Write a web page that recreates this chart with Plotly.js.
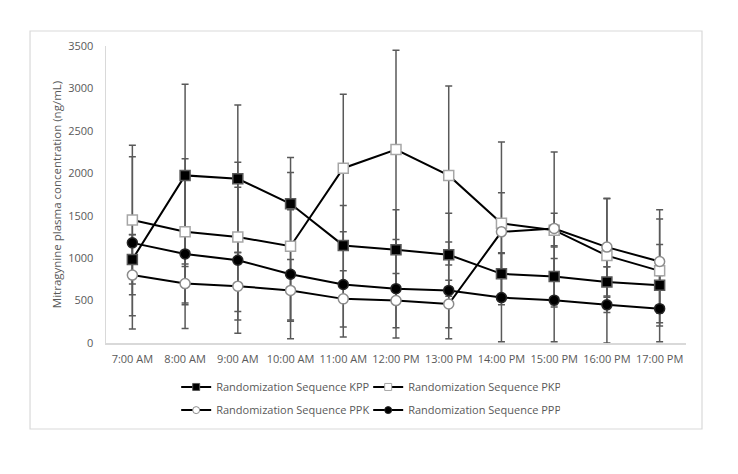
<!DOCTYPE html>
<html>
<head>
<meta charset="utf-8">
<script src="https://cdn.plot.ly/plotly-3.0.1.min.js"></script>
<style>html,body{margin:0;padding:0;background:#fff;}#chart{width:738px;height:474px;}</style>
</head>
<body>
<div id="chart"></div>
<script>
var categories = ["7:00 AM","8:00 AM","9:00 AM","10:00 AM","11:00 AM","12:00 PM","13:00 PM","14:00 PM","15:00 PM","16:00 PM","17:00 PM"];
var kppMean = [985, 1975, 1935, 1640, 1150, 1100, 1040, 815, 785, 720, 680];
var kppSD   = [290, 1073, 870, 545, 470, 470, 490, 250, 360, 180, 480];
var pkpMean = [1450, 1310, 1250, 1140, 2060, 2280, 1975, 1410, 1330, 1030, 850];
var pkpSD   = [880, 860, 880, 870, 870, 1170, 1055, 960, 200, 670, 610];
var ppkMean = [800, 700, 670, 620, 520, 500, 460, 1310, 1350, 1130, 960];
var ppkSD   = [480, 230, 400, 365, 330, 320, 280, 460, 900, 575, 610];
var pppMean = [1180, 1050, 975, 810, 690, 640, 620, 535, 505, 450, 405];
var pppSD   = [1015, 880, 860, 760, 620, 580, 570, 520, 490, 450, 390];
var seriesNames = ["Randomization Sequence KPP","Randomization Sequence PKP","Randomization Sequence PPK","Randomization Sequence PPP"];

var errColor = '#595959';
var series = [
  {name: seriesNames[0], y: kppMean, sd: kppSD, symbol: 'square', fill: '#000000', edge: '#595959', legend: 'legend'},
  {name: seriesNames[1], y: pkpMean, sd: pkpSD, symbol: 'square', fill: '#ffffff', edge: '#a6a6a6', legend: 'legend'},
  {name: seriesNames[2], y: ppkMean, sd: ppkSD, symbol: 'circle', fill: '#ffffff', edge: '#8c8c8c', legend: 'legend2'},
  {name: seriesNames[3], y: pppMean, sd: pppSD, symbol: 'circle', fill: '#000000', edge: '#262626', legend: 'legend2'}
];
var traces = [];
// error bars first (drawn beneath all markers)
series.forEach(function (s) {
  traces.push({type: 'scatter', mode: 'markers', x: categories, y: s.y, showlegend: false, hoverinfo: 'skip',
    marker: {size: 1, color: 'rgba(0,0,0,0)'},
    error_y: {type: 'data', array: s.sd, visible: true, color: errColor, thickness: 1.5, width: 3.5}});
});
// lines and markers
series.forEach(function (s) {
  traces.push({type: 'scatter', mode: 'lines+markers', name: s.name, x: categories, y: s.y, showlegend: false,
    line: {color: '#000000', width: 2},
    marker: {symbol: s.symbol, size: 10, color: s.fill, line: {color: s.edge, width: 1.5}}});
});
// legend entries with small symbols
series.forEach(function (s) {
  traces.push({type: 'scatter', mode: 'lines+markers', name: s.name, x: [categories[0]], y: [null], legend: s.legend,
    line: {color: '#000000', width: 2},
    marker: {symbol: s.symbol, size: 7, color: s.fill, line: {color: s.edge, width: 1}}});
});

var fam = '"Open Sans", "Noto Sans", sans-serif';
var legendCommon = {orientation: 'h', xanchor: 'left', yanchor: 'middle', entrywidth: 147, entrywidthmode: 'pixels',
  font: {family: fam, size: 11, color: '#595959'}, bgcolor: 'rgba(0,0,0,0)', itemwidth: 30};
var layout = {
  width: 738, height: 474,
  margin: {l: 106, r: 52, t: 46, b: 131},
  paper_bgcolor: '#ffffff', plot_bgcolor: '#ffffff',
  font: {family: fam, size: 11, color: '#595959'},
  showlegend: true,
  legend: Object.assign({x: 0.121, y: -0.148}, legendCommon),
  legend2: Object.assign({x: 0.121, y: -0.226}, legendCommon),
  xaxis: {type: 'category', range: [-0.5, 10.5], showgrid: false, zeroline: false, showline: true,
    linecolor: '#d9d9d9', linewidth: 1.5, ticks: '', ticklabelstandoff: 5, tickfont: {size: 11, color: '#595959'}, fixedrange: true},
  yaxis: {range: [0, 3500], dtick: 500, tick0: 0, showgrid: false, zeroline: false, showline: true,
    linecolor: '#d9d9d9', linewidth: 1.5, ticks: '', ticklabelstandoff: 9, tickfont: {size: 11, color: '#595959'},
    title: {text: 'Mitragynine plasma concentration (ng/mL)', font: {size: 11.5, color: '#595959'}, standoff: 4}},
  shapes: [{type: 'rect', xref: 'paper', yref: 'paper', x0: -0.131, x1: 1.0276, y0: -0.2896, y1: 1.0505,
    line: {color: '#d9d9d9', width: 1.2}, fillcolor: 'rgba(0,0,0,0)', layer: 'below'}]
};
Plotly.newPlot('chart', traces, layout, {displayModeBar: false, staticPlot: true});
</script>
</body>
</html>
